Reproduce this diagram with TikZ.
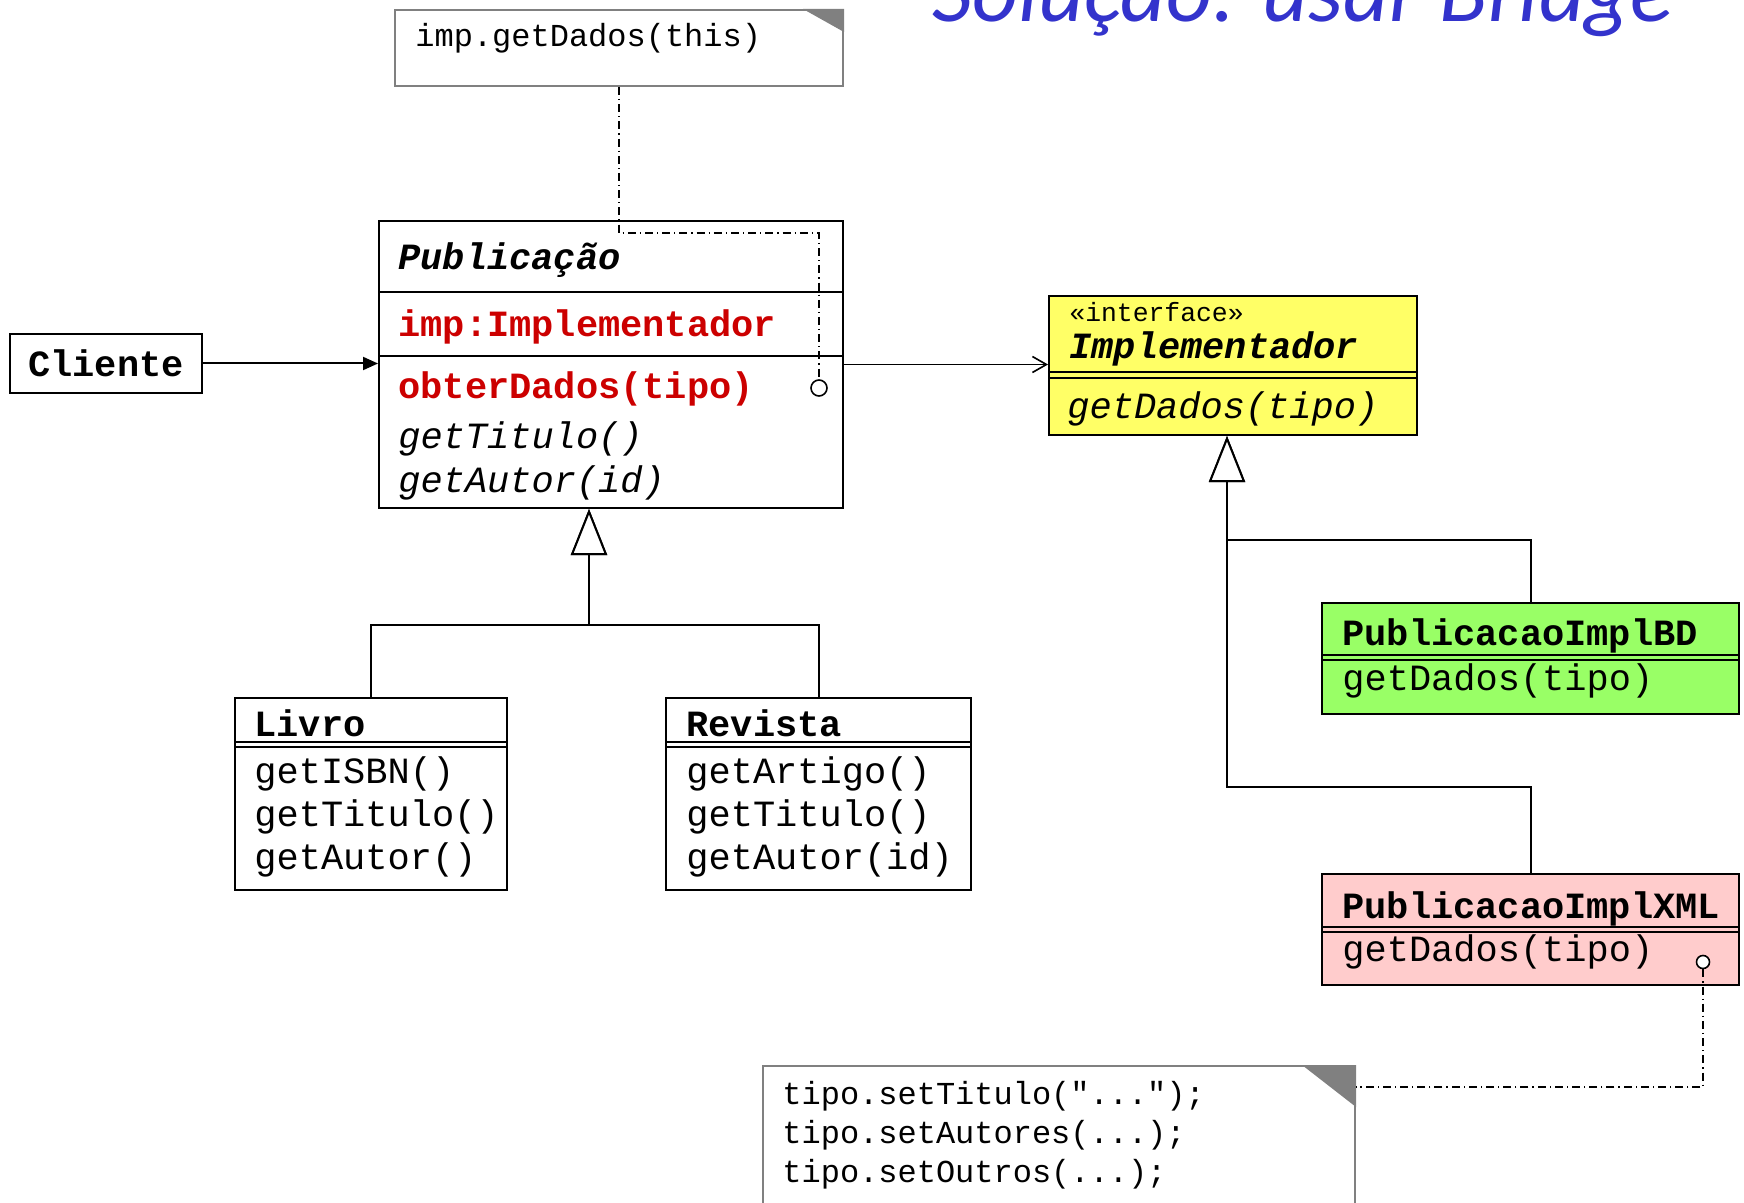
\documentclass[tikz,border=0pt]{standalone}
\usepackage{fontspec}
\setmonofont{Liberation Mono}
\newfontfamily\titlefont{Carlito}
\usetikzlibrary{arrows.meta}
\usetikzlibrary{calc}
\usetikzlibrary{positioning}

\definecolor{titleblue}{RGB}{51,51,204}
\definecolor{opred}{RGB}{204,0,0}
\definecolor{ifaceyellow}{RGB}{255,255,102}
\definecolor{bdgreen}{RGB}{153,255,102}
\definecolor{xmlpink}{RGB}{255,204,204}
\definecolor{notegray}{RGB}{128,128,128}

\begin{document}
\begin{tikzpicture}[x=0.5pt, y=-0.5pt,
  classbox/.style={draw, line width=1pt, anchor=north west, inner sep=0pt},
  notebox/.style={draw=notegray, line width=1pt, fill=white, anchor=north west, inner sep=0pt},
  txt/.style={anchor=base west, inner sep=0pt, font=\fontsize{18.5}{20}\selectfont\ttfamily},
  notetxt/.style={anchor=base west, inner sep=0pt, font=\fontsize{16}{18}\selectfont\ttfamily},
  port/.style={draw, circle, fill=white, inner sep=0pt, line width=0.8pt},
  anchorline/.style={line width=0.7pt, dash pattern=on 4pt off 2pt on 0.6pt off 2pt},
  gen/.style={line width=1pt, -{Triangle[open, fill=white, length=23pt, width=18pt]}},
  sep/.style={line width=1pt}]
\useasboundingbox (0,0) rectangle (1744,1203);
\clip (0,0) rectangle (1744,1203);

% title
\node[anchor=base west, inner sep=0pt, text=titleblue,
  font=\fontsize{44.5}{50}\selectfont\titlefont\itshape] (title) at (932,22) {Solução: usar Bridge};

% notes
\node[notebox, minimum width=224pt, minimum height=38pt] (note1) at (394,9) {};
\fill[notegray] ([xshift=-20.5pt]note1.north east) -- (note1.north east) -- ([yshift=-11.5pt]note1.north east) -- cycle;
\node[notetxt] (note1t) at (415,47) {imp.getDados(this)};

\node[notebox, minimum width=296pt, minimum height=82.5pt] (note2) at (762,1065) {};
\fill[notegray] ([xshift=-27pt]note2.north east) -- (note2.north east) -- ([yshift=-21pt]note2.north east) -- cycle;
\node[notetxt] (note2a) at (782,1104) {tipo.setTitulo("...");};
\node[notetxt] (note2b) at (782,1143) {tipo.setAutores(...);};
\node[notetxt] (note2c) at (782,1182) {tipo.setOutros(...);};

% cliente
\node[classbox, anchor=center, minimum width=96pt, minimum height=29.5pt,
  font=\fontsize{18.5}{20}\selectfont\ttfamily\bfseries] (cli) at (106,363.5) {Cliente};

% publicacao
\node[classbox, minimum width=232pt, minimum height=143.5pt] (pub) at (378,220) {};
\draw[sep] (378,292.5) -- (842,292.5);
\draw[sep] (378,356) -- (842,356);
\node[txt, font=\fontsize{18.5}{20}\selectfont\ttfamily\bfseries\itshape] (pubname) at (398,270) {Publicação};
\node[txt, text=opred, font=\fontsize{18.5}{20}\selectfont\ttfamily\bfseries] (pubimp) at (398,336) {imp:Implementador};
\node[txt, text=opred, font=\fontsize{18.5}{20}\selectfont\ttfamily\bfseries] (pubop1) at (398,399) {obterDados(tipo)};
\node[txt, font=\fontsize{18.5}{20}\selectfont\ttfamily\itshape] (pubop2) at (398,448) {getTitulo()};
\node[txt, font=\fontsize{18.5}{20}\selectfont\ttfamily\itshape] (pubop3) at (398,492) {getAutor(id)};
\node[port, minimum size=8pt] (pubdot) at (819,388) {};

% implementador
\node[classbox, fill=ifaceyellow, minimum width=184pt, minimum height=69.5pt] (impl) at (1048,295) {};
\node[anchor=base west, inner sep=0pt, font=\fontsize{13.2}{15}\selectfont\ttfamily] (implst) at (1069,322) {«interface»};
\node[txt, font=\fontsize{18.5}{20}\selectfont\ttfamily\bfseries\itshape] (implname) at (1069,358) {Implementador};
\draw[sep] (1048,372) -- (1416,372);
\draw[sep] (1048,378) -- (1416,378);
\node[txt, font=\fontsize{18.5}{20}\selectfont\ttfamily\itshape] (implop) at (1067,418) {getDados(tipo)};

% livro
\node[classbox, minimum width=136pt, minimum height=96pt] (livro) at (234,697) {};
\node[txt, font=\fontsize{18.5}{20}\selectfont\ttfamily\bfseries] (livroname) at (254,736) {Livro};
\draw[sep] (234,742) -- (506,742);
\draw[sep] (234,747) -- (506,747);
\node[txt] (livroop1) at (254,783) {getISBN()};
\node[txt] (livroop2) at (254,826) {getTitulo()};
\node[txt] (livroop3) at (254,869) {getAutor()};

% revista
\node[classbox, minimum width=152.5pt, minimum height=96pt] (rev) at (665,697) {};
\node[txt, font=\fontsize{18.5}{20}\selectfont\ttfamily\bfseries] (revname) at (686,736) {Revista};
\draw[sep] (665,742) -- (970,742);
\draw[sep] (665,747) -- (970,747);
\node[txt] (revop1) at (686,783) {getArtigo()};
\node[txt] (revop2) at (686,826) {getTitulo()};
\node[txt] (revop3) at (686,869) {getAutor(id)};

% implementacoes
\node[classbox, fill=bdgreen, minimum width=208.5pt, minimum height=55.5pt] (bd) at (1321,602) {};
\node[txt, font=\fontsize{18.5}{20}\selectfont\ttfamily\bfseries] (bdname) at (1342,645) {PublicacaoImplBD};
\draw[sep] (1321,655) -- (1738,655);
\draw[sep] (1321,660) -- (1738,660);
\node[txt] (bdop) at (1342,690) {getDados(tipo)};

\node[classbox, fill=xmlpink, minimum width=208.5pt, minimum height=55.5pt] (xml) at (1321,873) {};
\node[txt, font=\fontsize{18.5}{20}\selectfont\ttfamily\bfseries] (xmlname) at (1342,918) {PublicacaoImplXML};
\draw[sep] (1321,927) -- (1738,927);
\draw[sep] (1321,932) -- (1738,932);
\node[txt] (xmlop) at (1342,961) {getDados(tipo)};
\node[port, minimum size=6.5pt] (xmldot) at (1703,962) {};

% associacoes
\draw[line width=1pt, -{Triangle[length=7.5pt, width=6.5pt]}] (cli.east) -- (cli.east -| pub.west);
\draw[line width=0.8pt, -{Straight Barb[length=7pt, width=8pt]}] (pub.east) -- (pub.east -| impl.west);

% heranca
\draw[gen] (livro.north) -- ++(0,-72) -| ([xshift=-11pt]pub.south);
\draw[gen] (rev.north) -- ++(0,-72) -| ([xshift=-11pt]pub.south);
\draw[gen] (bd.north) -- ++(0,-62) -| ([xshift=-3pt]impl.south);
\draw[gen] (xml.north) -- ++(0,-86) -| ([xshift=-3pt]impl.south);

% ligacoes das notas
\draw[anchorline] (note1.south) -- ++(0,146) -| (pubdot.north);
\draw[anchorline] (xmldot.south) |- ($(note2.north east)+(0,22)$);
\end{tikzpicture}
\end{document}
